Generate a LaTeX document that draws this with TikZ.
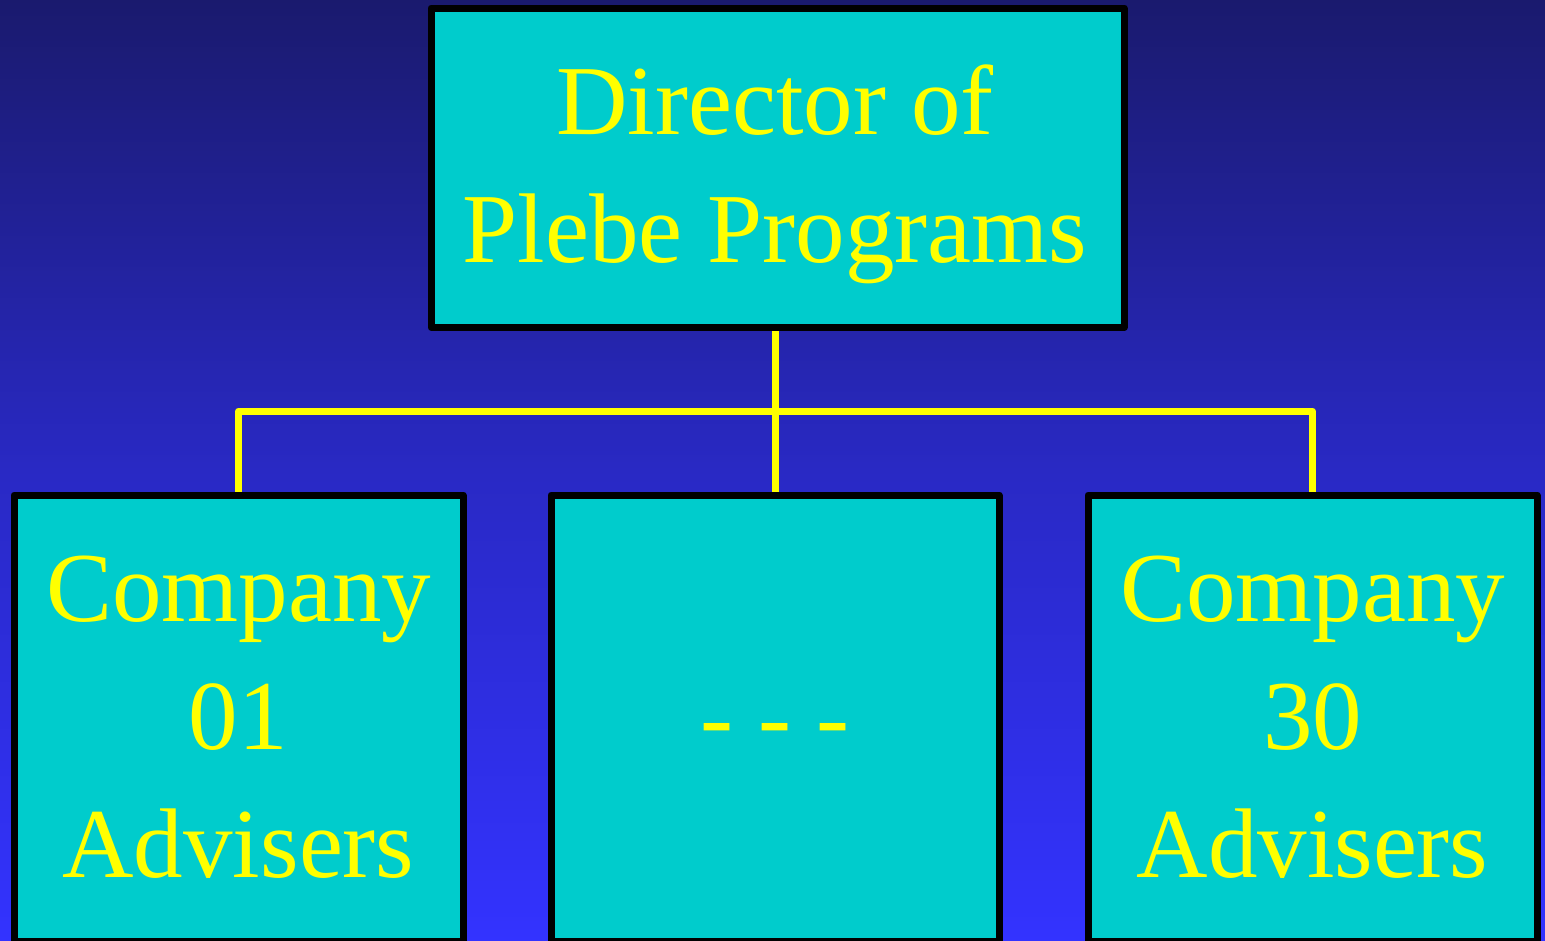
\documentclass[tikz,border=0pt]{standalone}
\usepackage{fontspec}
\setmainfont{Liberation Serif}
\definecolor{bgtop}{HTML}{1A1A6E}
\definecolor{bgmid}{HTML}{2929C4}
\definecolor{bgbot}{HTML}{3333FF}
\definecolor{boxfill}{HTML}{00CCCC}
\definecolor{txt}{HTML}{FFFF00}
\begin{document}
\begin{tikzpicture}[x=1pt,y=-1pt,
  orgbox/.style={draw=black, line width=7pt, fill=boxfill, line join=round, rectangle, inner sep=0pt},
  lbl/.style={text=txt, font=\fontsize{99}{128}\selectfont, align=center, inner sep=0pt, anchor=base},
  link/.style={draw=txt, line width=7pt, line join=round}]
\useasboundingbox (0,0) rectangle (1545,940);
\shade[top color=bgtop, bottom color=bgbot, middle color=bgmid] (0,0) rectangle (1545,940);
% boxes
\node[orgbox, minimum width=693pt, minimum height=319.5pt] (dir) at (777.5,167.75) {};
\node[orgbox, minimum width=449pt, minimum height=446pt] (cl) at (238.5,718) {};
\node[orgbox, minimum width=448pt, minimum height=446pt] (cm) at (775,718) {};
\node[orgbox, minimum width=449pt, minimum height=446pt] (cr) at (1312.5,718) {};
% connectors
\coordinate (bus) at (775,411);
\draw[link] (cm.north |- dir.south) -- (cm.north);
\draw[link] (cl.north) |- (bus) -| (cr.north);
% labels (anchored at the baseline of the last line)
\node[lbl] (tdir) at (775,262) {Director of\\Plebe Programs};
\node[lbl] (tl) at (238.5,877) {Company\\01\\Advisers};
\node[lbl] (tm) at (775,750) {- - -};
\node[lbl] (tr) at (1312.5,877) {Company\\30\\Advisers};
\end{tikzpicture}
\end{document}
